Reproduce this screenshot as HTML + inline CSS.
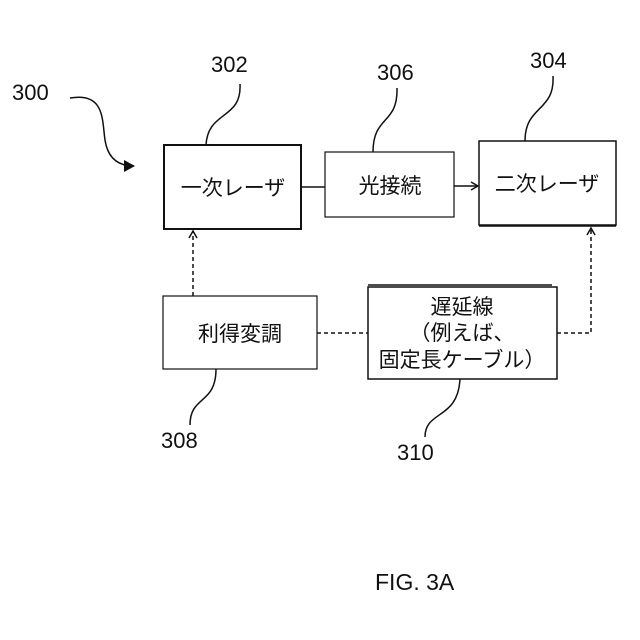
<!DOCTYPE html>
<html><head><meta charset="utf-8"><style>
body{margin:0;background:#fff}
svg{display:block}
text{font-family:"Liberation Sans","Noto Sans CJK JP",sans-serif;fill:#111}
</style></head><body>
<svg width="640" height="640" viewBox="0 0 640 640">
<defs>
<marker id="a" markerWidth="10" markerHeight="10" refX="8" refY="5" orient="auto" markerUnits="userSpaceOnUse"><path d="M1,1 L8,5 L1,9" fill="none" stroke="#111" stroke-width="1.5"/></marker>
<marker id="f" markerWidth="14" markerHeight="14" refX="10" refY="7" orient="auto" markerUnits="userSpaceOnUse"><path d="M0,1 L11,7 L0,13 Z" fill="#111"/></marker>
</defs>
<g fill="none" stroke="#111">
<rect x="164" y="145" width="137" height="84" stroke-width="2"/>
<rect x="325" y="152" width="129" height="65" stroke-width="1.2"/>
<rect x="479" y="141" width="137" height="84" stroke-width="1.5"/>
<line x1="479" y1="226" x2="616" y2="226" stroke-width="1.5"/>
<rect x="163" y="296" width="154" height="73" stroke-width="1.2"/>
<rect x="368" y="287" width="189" height="92" stroke-width="1.5"/>
<line x1="368" y1="285" x2="552" y2="285" stroke-width="1.5"/>
<line x1="301" y1="187" x2="325" y2="187" stroke-width="1.5"/>
<line x1="454" y1="186" x2="478" y2="186" stroke-width="1.5" marker-end="url(#a)"/>
<g stroke-dasharray="4,3" stroke-width="1.5">
<line x1="193" y1="296" x2="193" y2="231" marker-end="url(#a)"/>
<line x1="317" y1="333" x2="368" y2="333"/>
<polyline points="557,333 591,333 591,228" marker-end="url(#a)"/>
</g>
<g stroke-width="1.5">
<path d="M70,98 C105,92 102,120 105,140 C108,160 120,166 134,166" marker-end="url(#f)"/>
<path d="M240,84 C242,120 208,110 206,145"/>
<path d="M397,88 C398,125 373,115 373,152"/>
<path d="M553,76 C555,112 525,105 525,141"/>
<path d="M216,369 C216,405 190,395 190,425"/>
<path d="M460,379 C458,420 425,410 425,437"/>
</g>
</g>
<g font-size="22">
<text x="12" y="100">300</text>
<text x="211" y="72">302</text>
<text x="377" y="80">306</text>
<text x="530" y="68">304</text>
<text x="161" y="448">308</text>
<text x="397" y="460">310</text>
</g>
<text x="375" y="590" font-size="23">FIG. 3A</text>
<g font-size="21" text-anchor="middle">
<text x="233" y="195">一次レーザ</text>
<text x="390" y="193">光接続</text>
<text x="547" y="191">二次レーザ</text>
<text x="240" y="341">利得変調</text>
<text x="462" y="314">遅延線</text>
<text x="462" y="340">（例えば、</text>
<text x="462" y="367">固定長ケーブル）</text>
</g>
</svg>
</body></html>
